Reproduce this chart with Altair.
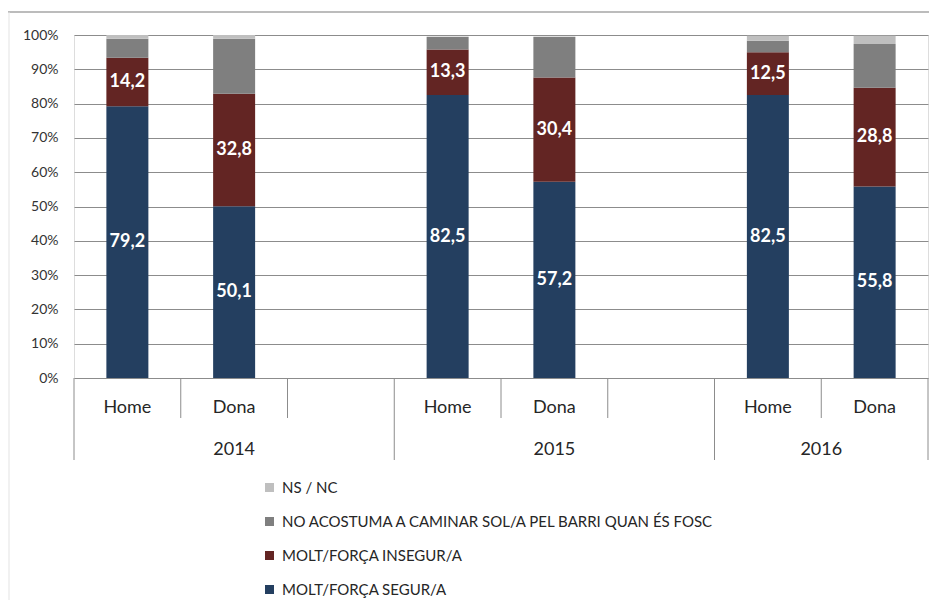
import altair as alt
import pandas as pd

# ---- data ----
years = ["2014", "2015", "2016"]
group_slots = [3, 3, 2]          # category slots per year (incl. empty slot)
sexes = ["Home", "Dona"]
series = [
    "MOLT/FORÇA SEGUR/A",
    "MOLT/FORÇA INSEGUR/A",
    "NO ACOSTUMA A CAMINAR SOL/A PEL BARRI QUAN ÉS FOSC",
    "NS / NC",
]
colors = ["#243F60", "#632523", "#7F7F7F", "#BFBFBF"]

bar_year = ["2014", "2014", "2015", "2015", "2016", "2016"]
bar_sex = ["Home", "Dona", "Home", "Dona", "Home", "Dona"]
segur = [79.2, 50.1, 82.5, 57.2, 82.5, 55.8]
insegur = [14.2, 32.8, 13.3, 30.4, 12.5, 28.8]
no_acostuma = [5.5, 16.0, 3.7, 11.9, 3.3, 12.8]
ns_nc = [1.1, 1.1, 0.0, 0.0, 1.5, 2.4]

# ---- build tables ----
group_start = {}
acc = 0
for y, n in zip(years, group_slots):
    group_start[y] = acc
    acc += n
total_slots = acc

rows = []
vals = [segur, insegur, no_acostuma, ns_nc]
for i, (yr, sx) in enumerate(zip(bar_year, bar_sex)):
    slot = group_start[yr] + sexes.index(sx) + 0.5
    base = 0.0
    for s, v in zip(series, vals):
        rows.append({
            "slot": slot, "serie": s, "y0": base, "y1": base + v[i],
            "mid": base + v[i] / 2, "val": v[i],
            "label": f"{v[i]:.1f}".replace(".", ","),
            "show": s in series[:2],
        })
        base += v[i]
bars_df = pd.DataFrame(rows)
labels_df = bars_df[bars_df["show"]]

cat_df = pd.DataFrame({
    "slot": [group_start[y] + sexes.index(s) + 0.5 for y, s in zip(bar_year, bar_sex)],
    "txt": bar_sex,
})
year_df = pd.DataFrame({
    "pos": [group_start[y] + n / 2 for y, n in zip(years, group_slots)],
    "txt": years,
})
long_b = [group_start[y] for y in years] + [total_slots]
short_b = [b for b in range(total_slots + 1) if b not in long_b]
long_df = pd.DataFrame({"b": long_b})
short_df = pd.DataFrame({"b": short_b})

W, H = 854, 343
PAD = {"left": 66, "top": 27, "right": 1, "bottom": 222}
FONT = "Lato"
xscale = alt.Scale(domain=[0, total_slots], nice=False, zero=False, padding=0)
yscale = alt.Scale(domain=[0, 100], nice=False, padding=0)
legend_order = [series[3], series[2], series[1], series[0]]
color_order = [colors[3], colors[2], colors[1], colors[0]]


def yaxis():
    return alt.Axis(values=list(range(0, 101, 10)), labelExpr="datum.value + '%'",
                    grid=True, gridColor="#8c8c8c", gridWidth=1, domain=False,
                    ticks=False, labelPadding=16, labelFontSize=14,
                    labelOverlap=False, labelColor="#333333", labelFont=FONT)


bars = alt.Chart(bars_df).mark_bar(size=42).encode(
    x=alt.X("slot:Q", scale=xscale, axis=None),
    y=alt.Y("y0:Q", scale=yscale, title=None, axis=yaxis()),
    y2="y1:Q",
    color=alt.Color("serie:N", scale=alt.Scale(domain=legend_order, range=color_order),
                    legend=alt.Legend(orient="none", legendX=188, legendY=445,
                                      direction="vertical", title=None,
                                      symbolType="square", symbolSize=81,
                                      symbolStrokeWidth=0, labelFontSize=15,
                                      labelFont=FONT, labelColor="#262626",
                                      rowPadding=18, labelLimit=700, padding=0,
                                      labelOffset=5)),
)

texts = alt.Chart(labels_df).mark_text(color="white", fontWeight="bold", fontSize=18,
                                       font=FONT).encode(
    x=alt.X("slot:Q", scale=xscale, axis=None),
    y=alt.Y("mid:Q", scale=yscale, title=None, axis=yaxis()),
    text="label:N")

sep_short = alt.Chart(short_df).mark_rule(color="#8c8c8c", strokeWidth=1).encode(
    x=alt.X("b:Q", scale=xscale, axis=None), y=alt.value(H), y2=alt.value(H + 40))
sep_long = alt.Chart(long_df).mark_rule(color="#8c8c8c", strokeWidth=1).encode(
    x=alt.X("b:Q", scale=xscale, axis=None), y=alt.value(H), y2=alt.value(H + 82))

cat_text = alt.Chart(cat_df).mark_text(fontSize=18, font=FONT, color="#262626").encode(
    x=alt.X("slot:Q", scale=xscale, axis=None), y=alt.value(H + 30), text="txt:N")
year_text = alt.Chart(year_df).mark_text(fontSize=18, font=FONT, color="#262626").encode(
    x=alt.X("pos:Q", scale=xscale, axis=None), y=alt.value(H + 72), text="txt:N")

frame_top = alt.Chart(pd.DataFrame({"a": [0]})).mark_rule(color="#a6a6a6", strokeWidth=1.5).encode(
    x=alt.value(-PAD["left"]), x2=alt.value(W + PAD["right"]), y=alt.value(-23))
frame_left = alt.Chart(pd.DataFrame({"a": [0]})).mark_rule(color="#e3e3e3", strokeWidth=1).encode(
    x=alt.value(-PAD["left"] + 1), y=alt.value(-23), y2=alt.value(H + PAD["bottom"]))

chart = alt.layer(frame_top, frame_left, bars, texts, sep_short, sep_long, cat_text, year_text).properties(
    width=W, height=H,
    autosize=alt.AutoSizeParams(type="none"),
    padding=PAD,
).configure_view(strokeWidth=0, strokeOpacity=0).configure(font=FONT)

chart.save("out.html", embed_options={"renderer": "svg", "actions": False})
